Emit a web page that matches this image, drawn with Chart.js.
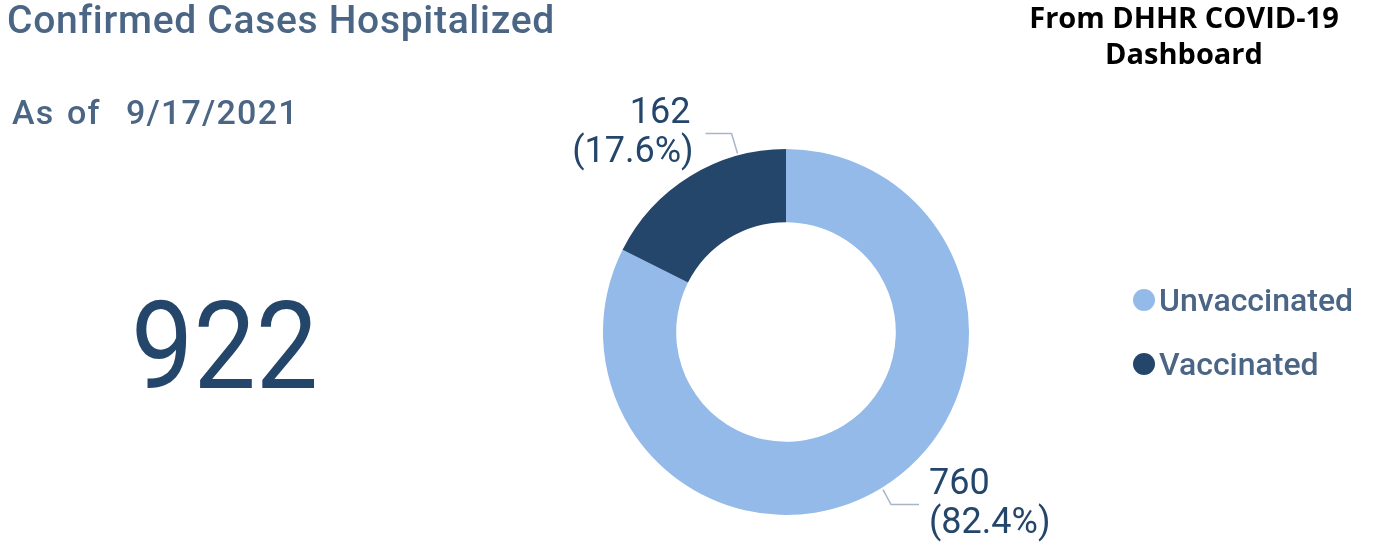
<!DOCTYPE html>
<html>
<head>
<meta charset="utf-8">
<script src="https://cdn.jsdelivr.net/npm/chart.js@4.4.0/dist/chart.umd.min.js"></script>
<style>
  html, body { margin: 0; padding: 0; background: #fff; }
  #wrap { position: relative; width: 1380px; height: 558px; overflow: hidden; font-family: Roboto, sans-serif; }
  #myChart { position: absolute; left: 0; top: 0; }
  .txt { position: absolute; white-space: nowrap; }
  #title { left: 7px; top: -3px; font-size: 39px; font-weight: 500; color: #4b6584; letter-spacing: 0.7px; }
  #asof { left: 12px; top: 92px; font-size: 34px; font-weight: 500; color: #4b6584; letter-spacing: 1.2px; word-spacing: 3px; }
  #total { left: 131px; top: 275px; font-size: 122px; color: #25466b; transform: scaleX(0.91); transform-origin: left top; }
  #source { left: 1000px; top: -1px; width: 368px; text-align: center; font-family: "Open Sans", sans-serif;
            font-weight: 700; font-size: 29px; line-height: 36px; color: #000; }
  #legend { left: 1133px; top: 268px; }
  .leg { display: flex; align-items: center; height: 64px; font-size: 32px; font-weight: 500; color: #4b6584; }
  .dot { width: 22px; height: 22px; border-radius: 50%; margin-right: 4px; }
</style>
</head>
<body>
<div id="wrap">
  <canvas id="myChart" width="1380" height="558"></canvas>
  <div class="txt" id="title">Confirmed Cases Hospitalized</div>
  <div class="txt" id="asof">As of&nbsp;&nbsp;9/17/2021</div>
  <div class="txt" id="total"></div>
  <div class="txt" id="source">From DHHR COVID-19<br>Dashboard</div>
  <div class="txt" id="legend"></div>
</div>
<script>
const labels = ['Unvaccinated', 'Vaccinated'];
const values = [760, 162];
const percents = ['82.4%', '17.6%'];
const colors = ['#93bae8', '#25466b'];

// where along each slice the leader line leaves the ring (0 = start, 1 = end)
const anchorAt = [0.5, 0.76];

const total = values.reduce((a, b) => a + b, 0);
document.getElementById('total').innerText = total;

// legend built from the same arrays
const legendEl = document.getElementById('legend');
labels.forEach((l, i) => {
    const row = document.createElement('div');
    row.className = 'leg';
    row.innerHTML = '<span class="dot" style="background:' + colors[i] + '"></span>' + l;
    legendEl.appendChild(row);
});

// value + percent callouts with elbow leader lines
const calloutPlugin = {
    id: 'callouts',
    afterDatasetsDraw(chart) {
        const ctx = chart.ctx;
        const meta = chart.getDatasetMeta(0);
        ctx.save();
        ctx.font = '36px Roboto';
        ctx.fillStyle = '#25466b';
        ctx.strokeStyle = '#a9b6c6';
        ctx.lineWidth = 1.5;
        meta.data.forEach((arc, i) => {
            const p = arc.getProps(['x', 'y', 'startAngle', 'endAngle', 'outerRadius']);
            const a = p.startAngle + (p.endAngle - p.startAngle) * anchorAt[i];
            const x0 = p.x + Math.cos(a) * (p.outerRadius + 2);
            const y0 = p.y + Math.sin(a) * (p.outerRadius + 2);
            const right = Math.cos(a) >= 0;
            const down = Math.sin(a) >= 0;
            const x1 = x0 + (right ? 8 : -6);
            const y1 = y0 + (down ? 15 : -20);
            const x2 = x1 + (right ? 28 : -26);
            ctx.beginPath();
            ctx.moveTo(x0, y0);
            ctx.lineTo(x1, y1);
            ctx.lineTo(x2, y1);
            ctx.stroke();
            ctx.textBaseline = 'middle';
            if (right) {
                ctx.textAlign = 'left';
                ctx.fillText(String(values[i]), x2 + 10, y1 - 20);
                ctx.fillText('(' + percents[i] + ')', x2 + 10, y1 + 19);
            } else {
                ctx.textAlign = 'right';
                ctx.fillText(String(values[i]), x2 - 15, y1 - 19);
                ctx.fillText('(' + percents[i] + ')', x2 - 12, y1 + 20);
            }
        });
        ctx.restore();
    }
};

new Chart(document.getElementById('myChart'), {
    type: 'doughnut',
    data: {
        labels: labels,
        datasets: [{
            data: values,
            backgroundColor: colors,
            borderWidth: 0
        }]
    },
    options: {
        responsive: false,
        animation: false,
        cutout: '60%',
        layout: { padding: { left: 603, right: 411, top: 149, bottom: 43 } },
        plugins: {
            legend: { display: false },
            tooltip: { enabled: false }
        }
    },
    plugins: [calloutPlugin]
});
</script>
</body>
</html>
